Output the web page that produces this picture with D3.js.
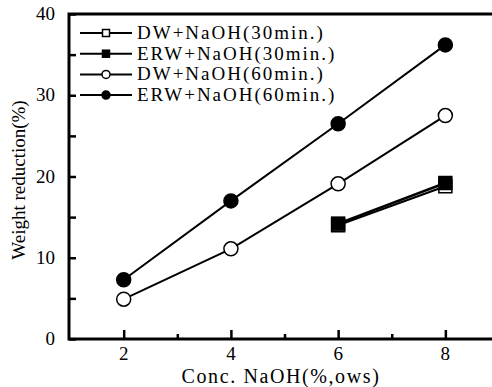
<!DOCTYPE html>
<html>
<head>
<script src="https://d3js.org/d3.v7.min.js"></script>
<style>
  body { margin: 0; background: #fff; }
  text { font-family: "Liberation Serif", "Times New Roman", serif; fill: #000; }
</style>
</head>
<body>
<svg width="492" height="387"></svg>
<script>
  var concs = [2, 4, 6, 8];
  var dw30 = [null, null, 14.0, 18.8];
  var erw30 = [null, null, 14.2, 19.2];
  var dw60 = [4.9, 11.1, 19.1, 27.5];
  var erw60 = [7.3, 17.0, 26.5, 36.2];
  var seriesNames = ['DW+NaOH(30min.)', 'ERW+NaOH(30min.)', 'DW+NaOH(60min.)', 'ERW+NaOH(60min.)'];
  var xTicks = [2, 4, 6, 8];
  var yTicks = [0, 10, 20, 30, 40];

  var svg = d3.select('svg');
  var margin = {left: 69, top: 14, right: 0, bottom: 48};
  var w = 492, h = 387;

  var x = d3.scaleLinear().domain([0.98, 8.87]).range([margin.left, w]);
  var y = d3.scaleLinear().domain([0, 40]).range([h - margin.bottom, margin.top]);

  var series = [
    {name: seriesNames[0], vals: dw30, shape: 'square', fill: '#fff', lw: 2},
    {name: seriesNames[1], vals: erw30, shape: 'square', fill: '#000', lw: 2.5},
    {name: seriesNames[2], vals: dw60, shape: 'circle', fill: '#fff', lw: 2},
    {name: seriesNames[3], vals: erw60, shape: 'circle', fill: '#000', lw: 2}
  ];

  // frame
  svg.append('path')
    .attr('d', `M${w},${y(40)}H${margin.left}V${y(0)}H${w}`)
    .attr('fill', 'none').attr('stroke', '#000').attr('stroke-width', 3);

  // y ticks (inward)
  var yAxis = d3.axisRight(y).tickValues(d3.range(0, 41, 5)).tickSize(7).tickFormat('');
  var gy = svg.append('g').attr('transform', `translate(${margin.left},0)`).call(yAxis);
  gy.select('.domain').remove();
  gy.selectAll('line').attr('stroke-width', 2.5);

  svg.selectAll('.ylab').data(yTicks).enter().append('text')
    .attr('x', 55).attr('y', d => y(d) + 6)
    .attr('text-anchor', 'end').style('font-size', '19px')
    .text(d => d);

  // x ticks (inward)
  var gx = svg.append('g').attr('transform', `translate(0,${y(0)})`)
    .call(d3.axisTop(x).tickValues(d3.range(2, 9, 1)).tickSize(8).tickFormat(''));
  gx.select('.domain').remove();
  gx.selectAll('line').attr('stroke-width', 2.5)
    .attr('y2', d => d % 2 === 0 ? -9 : -5);

  svg.selectAll('.xlab').data(xTicks).enter().append('text')
    .attr('x', d => x(d)).attr('y', y(0) + 21)
    .attr('text-anchor', 'middle').style('font-size', '19px')
    .text(d => d);

  svg.append('text')
    .attr('x', 281).attr('y', 383)
    .attr('text-anchor', 'middle').style('font-size', '20px')
    .style('letter-spacing', '1.6px')
    .text('Conc. NaOH(%,ows)');

  svg.append('text')
    .attr('transform', 'translate(25,180) rotate(-90)')
    .attr('text-anchor', 'middle').style('font-size', '19px')
    .text('Weight reduction(%)');

  var line = d3.line()
    .defined(d => d[1] !== null)
    .x(d => x(d[0])).y(d => y(d[1]));

  function marker(g, shape, fill, cx, cy, s) {
    if (shape === 'circle') {
      g.append('circle').attr('cx', cx).attr('cy', cy).attr('r', s)
        .attr('fill', fill).attr('stroke', '#000').attr('stroke-width', 1.5);
    } else {
      g.append('rect').attr('x', cx - s).attr('y', cy - s)
        .attr('width', 2 * s).attr('height', 2 * s)
        .attr('fill', fill).attr('stroke', '#000').attr('stroke-width', 1.5);
    }
  }

  series.forEach(function(s) {
    var pts = concs.map((c, i) => [c, s.vals[i]]);
    svg.append('path').datum(pts).attr('d', line)
      .attr('fill', 'none').attr('stroke', '#000').attr('stroke-width', s.lw);
  });
  series.forEach(function(s) {
    var g = svg.append('g');
    concs.forEach(function(c, i) {
      if (s.vals[i] === null) return;
      marker(g, s.shape, s.fill, x(c), y(s.vals[i]), s.shape === 'circle' ? 7 : 6.5);
    });
  });

  // legend
  var leg = svg.append('g');
  series.forEach(function(s, i) {
    var ly = 33 + i * 20.7;
    leg.append('line').attr('x1', 80).attr('x2', 132).attr('y1', ly).attr('y2', ly)
      .attr('stroke', '#000').attr('stroke-width', 2);
    marker(leg, s.shape, s.fill, 106, ly, s.shape === 'circle' ? 4 : 3.5);
    leg.append('text').attr('x', 137).attr('y', ly + 6)
      .style('font-size', '19px').style('letter-spacing', '2px')
      .text(s.name);
  });
</script>
</body>
</html>
